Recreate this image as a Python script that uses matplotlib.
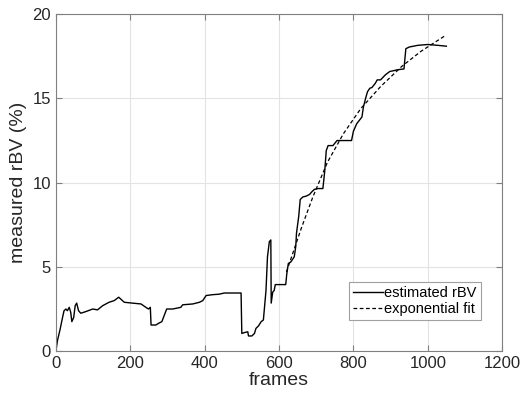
import matplotlib.pyplot as plt

plt.rcParams['font.family'] = ['Liberation Sans', 'DejaVu Sans']

# estimated rBV trace
frames = [0, 4.5, 11, 18, 22, 27, 31, 36, 40, 43, 48, 52, 56, 61, 67, 81, 99, 112, 126, 143,
          157, 169, 184, 206, 229, 242, 249, 254, 256, 269, 276, 285, 298, 314, 336, 341, 368,
          386, 395, 404, 421, 439, 453, 475, 498, 500, 507, 516, 518, 527, 534, 538, 545, 552,
          558, 565, 569, 574, 578, 579, 583, 587, 590, 618, 621, 625, 632, 641, 645, 647, 653,
          657, 664, 673, 682, 688, 695, 705, 718, 723, 727, 732, 745, 756, 768, 795, 800, 809,
          823, 827, 834, 838, 844, 850, 859, 864, 873, 886, 898, 909, 918, 936, 941, 950, 973,
          1000, 1027, 1050]
rbv = [0.0, 0.65, 1.25, 2.0, 2.4, 2.5, 2.4, 2.6, 2.3, 1.75, 2.0, 2.7, 2.85, 2.4, 2.25, 2.35,
       2.5, 2.45, 2.7, 2.9, 3.0, 3.2, 2.9, 2.85, 2.8, 2.6, 2.5, 2.6, 1.55, 1.55, 1.65, 1.75, 2.5,
       2.5, 2.6, 2.75, 2.8, 2.9, 3.0, 3.3, 3.35, 3.38, 3.45, 3.45, 3.45, 1.05, 1.1, 1.15, 0.9,
       0.9, 1.05, 1.35, 1.5, 1.75, 1.85, 3.6, 5.6, 6.5, 6.6, 2.85, 3.5, 3.6, 3.95, 3.95, 4.6, 5.2,
       5.3, 5.6, 6.2, 7.0, 8.0, 9.0, 9.15, 9.2, 9.3, 9.45, 9.6, 9.65, 9.65, 10.7, 11.9, 12.2,
       12.2, 12.5, 12.5, 12.5, 13.05, 13.5, 13.9, 14.5, 15.1, 15.4, 15.6, 15.65, 15.9, 16.1,
       16.1, 16.4, 16.6, 16.65, 16.7, 16.75, 17.95, 18.05, 18.15, 18.2, 18.15, 18.1]

# exponential fit
fit_frames = [620, 640, 660, 691, 730, 773, 820, 873, 930, 982, 1045]
fit_rbv = [4.7, 6.0, 7.3, 9.15, 11.2, 12.9, 14.4, 15.7, 16.9, 17.8, 18.7]

fig = plt.figure(figsize=(5.22, 4.05), dpi=100)
ax = fig.add_axes([0.107, 0.133, 0.855, 0.832])

ax.plot(frames, rbv, color='black', lw=1.0, label='estimated rBV')
ax.plot(fit_frames, fit_rbv, color='black', lw=0.9, ls=(0, (3, 2)), label='exponential fit')

ax.set_xlim(0, 1200)
ax.set_ylim(0, 20)
ax.set_xticks(range(0, 1201, 200))
ax.set_yticks([0, 5, 10, 15, 20])
ax.grid(True, color='#e3e3e3', lw=0.8)
ax.set_axisbelow(True)
for s in ax.spines.values():
    s.set_color('#808080')
    s.set_linewidth(0.8)
ax.tick_params(direction='in', top=True, right=True, length=4, color='#808080',
               labelsize=12, labelcolor='#262626')
ax.set_xlabel('frames', fontsize=14, color='#262626', labelpad=1)
ax.set_ylabel('measured rBV (%)', fontsize=14, color='#262626', labelpad=4)

leg = ax.legend(loc='lower right', bbox_to_anchor=(0.952, 0.092), fontsize=10.5,
                fancybox=False, framealpha=1, edgecolor='#a0a0a0', handlelength=2.0,
                handletextpad=0.1, borderpad=0.3, labelspacing=0.12, borderaxespad=0)
leg.get_frame().set_linewidth(0.8)

fig.savefig('out.png', dpi=100)
